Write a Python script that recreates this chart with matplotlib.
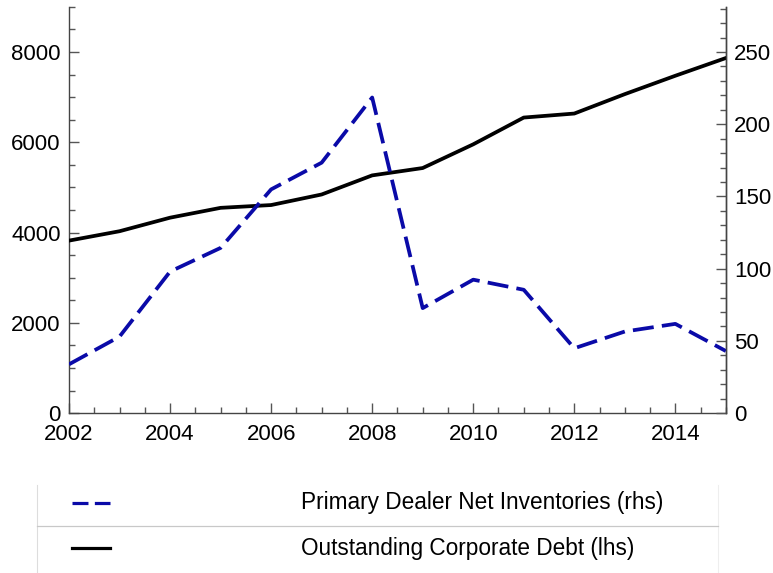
import matplotlib.pyplot as plt
from matplotlib.lines import Line2D
from matplotlib.ticker import MultipleLocator

plt.rcParams['font.family'] = ['Liberation Sans', 'DejaVu Sans']

years = list(range(2002, 2016))
corp_debt = [3822, 4030, 4330, 4548, 4610, 4844, 5267, 5430, 5955, 6548, 6637, 7067, 7474, 7867]
dealer_inv = [33.8, 53, 98, 114.4, 154.9, 173.4, 218.5, 72.7, 92.4, 85.4, 44.9, 56.5, 61.8, 43]

debt_label = "Outstanding Corporate Debt (lhs)"
inv_label = "Primary Dealer Net Inventories (rhs)"

blue = '#0a0aa8'

fig = plt.figure(figsize=(7.73, 5.73), dpi=100)
ax = fig.add_axes([0.0893, 0.279, 0.8497, 0.709])
ax2 = ax.twinx()

ax.plot(years, corp_debt, color='black', lw=2.7, zorder=3)
ax2.plot(years, dealer_inv, color=blue, lw=2.7, dashes=(5.6, 2.2))

ax.set_xlim(2002, 2015)
ax.set_ylim(0, 9000)
ax2.set_ylim(0, 9000 / 32)

ax.xaxis.set_major_locator(MultipleLocator(2))
ax.xaxis.set_minor_locator(MultipleLocator(0.5))
ax.yaxis.set_major_locator(MultipleLocator(2000))
ax.yaxis.set_minor_locator(MultipleLocator(500))
ax2.yaxis.set_major_locator(MultipleLocator(50))
ax2.yaxis.set_minor_locator(MultipleLocator(10))

for a in (ax, ax2):
    a.spines['top'].set_visible(False)
    for s in a.spines.values():
        s.set_color('#444444')
        s.set_linewidth(1.0)
    a.tick_params(which='both', direction='in', colors='#555555', labelcolor='black',
                  labelsize=16, width=1.0)
    a.tick_params(which='major', length=7)
    a.tick_params(which='minor', length=4)

ax.tick_params(axis='x', pad=8)
ax.tick_params(axis='y', pad=6)
ax2.tick_params(axis='y', pad=6)
ax2.spines['left'].set_visible(False)
ax2.spines['bottom'].set_visible(False)

# legend drawn as a small table below the plot
W, H = 773, 573


def fx(px):
    return px / W


def fy(py):
    return 1 - py / H


fig.add_artist(Line2D([fx(37), fx(37)], [fy(485), fy(573)], color='#dddddd', lw=0.8))
fig.add_artist(Line2D([fx(718), fx(718)], [fy(485), fy(573)], color='#eeeeee', lw=0.8))
fig.add_artist(Line2D([fx(37), fx(718)], [fy(526), fy(526)], color='#c8c8c8', lw=0.9))

rows = [(503, inv_label, dict(color=blue, dashes=(5, 2))),
        (548, debt_label, dict(color='black'))]
for ypx, label, style in rows:
    fig.add_artist(Line2D([fx(72), fx(110)], [fy(ypx), fy(ypx)], lw=2.3, **style))
    fig.text(fx(301), fy(ypx), label, fontsize=16.3, va='center', ha='left')

fig.savefig('out.png', dpi=100)
